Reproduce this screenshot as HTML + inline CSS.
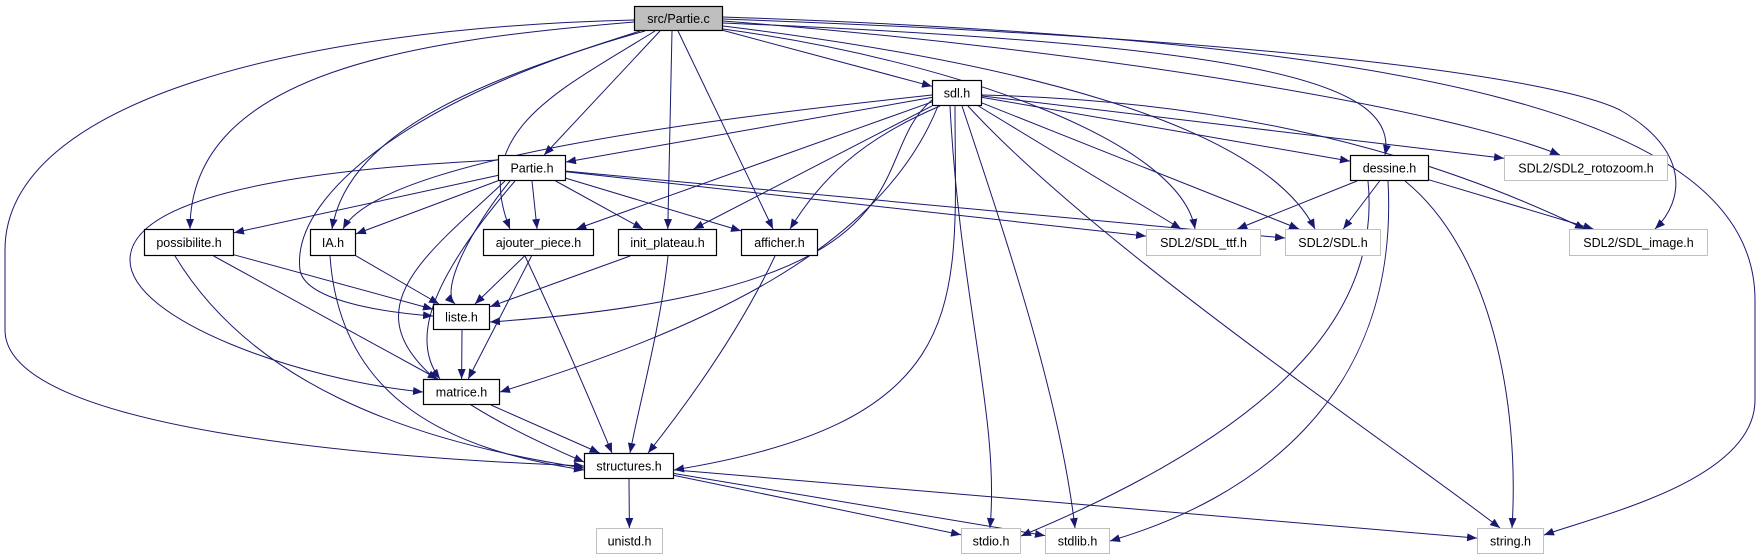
<!DOCTYPE html>
<html><head><meta charset="utf-8">
<style>
html,body{margin:0;padding:0;background:#fff;}
svg{display:block;}
text{font-family:"Liberation Sans",sans-serif;font-size:12.5px;fill:#000;}
</style></head>
<body>
<svg id="g" width="1763" height="560" viewBox="0 0 1763 560" xmlns="http://www.w3.org/2000/svg">
<defs>
<marker id="a" markerWidth="11" markerHeight="8" refX="10" refY="4" orient="auto" markerUnits="userSpaceOnUse">
<path d="M0,0 L10,4 L0,8 Z" fill="#191970"/>
</marker>
</defs>
<g id="edges" fill="none" stroke="#191970" stroke-width="1"></g>
<g id="nodes"></g>
</svg>
<script>
var N={
 pc:[634,6,723,31,"src/Partie.c",2],
 sdl:[932,80,982,106,"sdl.h",1],
 ph:[498,155,566,181,"Partie.h",1],
 des:[1350,155,1429,181,"dessine.h",1],
 rot:[1504,155,1668,181,"SDL2/SDL2_rotozoom.h",0],
 pos:[144,229,234,256,"possibilite.h",1],
 ia:[310,229,356,256,"IA.h",1],
 aj:[483,229,594,256,"ajouter_piece.h",1],
 ini:[618,229,717,256,"init_plateau.h",1],
 aff:[741,229,818,256,"afficher.h",1],
 ttf:[1146,229,1261,256,"SDL2/SDL_ttf.h",0],
 sdlh:[1285,229,1381,256,"SDL2/SDL.h",0],
 img:[1569,229,1708,256,"SDL2/SDL_image.h",0],
 li:[433,304,490,330,"liste.h",1],
 ma:[423,379,500,405,"matrice.h",1],
 st:[584,453,674,479,"structures.h",1],
 un:[596,528,663,554,"unistd.h",0],
 sio:[961,528,1021,554,"stdio.h",0],
 sli:[1045,528,1110,554,"stdlib.h",0],
 sstr:[1477,528,1544,554,"string.h",0]
};
function c(k){var n=N[k];return [(n[0]+n[2])/2,(n[1]+n[3])/2];}
function clip(p,k){var n=N[k],q=c(k),dx=p[0]-q[0],dy=p[1]-q[1];
 var hw=(n[2]-n[0])/2,hh=(n[3]-n[1])/2;
 var t=Math.min(dx?hw/Math.abs(dx):1e9,dy?hh/Math.abs(dy):1e9);
 return [q[0]+dx*t,q[1]+dy*t];}
var E=document.getElementById("edges"),ns="http://www.w3.org/2000/svg";
function path(d){var p=document.createElementNS(ns,"path");p.setAttribute("d",d);p.setAttribute("marker-end","url(#a)");E.appendChild(p);}
function line(s,t,sx){var a=c(s);if(sx!==undefined)a=[sx,N[s][3]];var b=clip(a,t);
 var a2=clip(b,s);if(sx!==undefined)a2=a;path("M"+a2[0]+","+a2[1]+" L"+b[0]+","+b[1]);}
line("pc","sdl");line("pc","ph",660);line("pc","ini",672);line("pc","aff",678);
path("M634,20 C300,28 5,100 5,250 L5,330 C5,430 380,458 584,466");
path("M634,22 C420,40 190,70 190,229");
path("M640,31 C520,70 350,120 332,229");
path("M645,31 C430,90 290,190 300,270 C305,300 380,312 433,316");
path("M655,31 C560,90 470,130 510,229");
path("M723,17 C1400,40 1755,110 1755,300 L1755,400 C1755,480 1600,515 1544,535");
path("M723,19 C1300,40 1560,80 1620,110 C1690,150 1685,200 1655,229");
path("M723,21 C1100,50 1450,110 1560,155");
path("M723,23 C1250,45 1400,80 1385,155");
path("M723,26 C1000,60 1260,120 1315,229");
path("M723,29 C950,60 1180,140 1195,229");
line("sdl","ph");line("sdl","aj");line("sdl","ini");line("sdl","des");line("sdl","rot");line("sdl","ttf");line("sdl","sdlh");
path("M932,95 C700,120 380,160 343,229");
path("M940,106 C860,140 820,180 790,229");
path("M932,100 C860,160 950,290 490,322");
path("M938,106 C880,250 700,330 500,392");
path("M955,106 C955,300 980,420 674,470");
path("M950,106 C960,300 1000,420 990,528");
path("M962,106 C1010,250 1060,400 1075,528");
path("M968,106 C1100,250 1400,450 1500,528");
path("M982,95 C1200,100 1400,140 1585,229");
line("ph","pos");line("ph","ia");line("ph","aj",532);line("ph","ini");line("ph","aff");line("ph","ttf");line("ph","sdlh");
path("M498,160 C400,165 130,180 130,260 C130,320 300,380 423,392");
path("M510,181 C470,230 440,290 455,304");
path("M515,181 C430,280 410,340 440,379");
path("M505,181 C400,280 300,340 584,462");
line("des","ttf");line("des","sdlh");line("des","img");
path("M1368,181 C1380,300 1300,420 1021,536");
path("M1388,181 C1400,400 1250,500 1110,541");
path("M1405,181 C1490,250 1520,400 1512,528");
line("pos","li");line("pos","ma");path("M175,256 C250,380 400,440 584,468");
line("ia","li");path("M330,256 C340,400 450,450 584,470");
line("aj","li");line("aj","ma");path("M525,256 C560,330 590,400 612,453");
line("ini","li");path("M668,256 C660,330 640,400 630,453");
path("M775,256 C740,330 690,400 648,453");
line("li","ma",462);line("ma","st");
line("st","un",629);line("st","sio");line("st","sli");line("st","sstr");
var G=document.getElementById("nodes");
for(var k in N){var n=N[k];var r=document.createElementNS(ns,"rect");
 r.setAttribute("x",n[0]+0.5);r.setAttribute("y",n[1]+0.5);r.setAttribute("width",n[2]-n[0]-1);r.setAttribute("height",n[3]-n[1]-1);
 r.setAttribute("fill",n[5]==2?"#bfbfbf":"#fff");r.setAttribute("stroke",n[5]==0?"#bfbfbf":"#000");r.setAttribute("stroke-width",n[5]==0?"1":"1.2");
 G.appendChild(r);
 var t=document.createElementNS(ns,"text");t.setAttribute("x",(n[0]+n[2])/2);t.setAttribute("y",(n[1]+n[3])/2+4.5);t.setAttribute("text-anchor","middle");t.textContent=n[4];G.appendChild(t);}
</script>
</body></html>
